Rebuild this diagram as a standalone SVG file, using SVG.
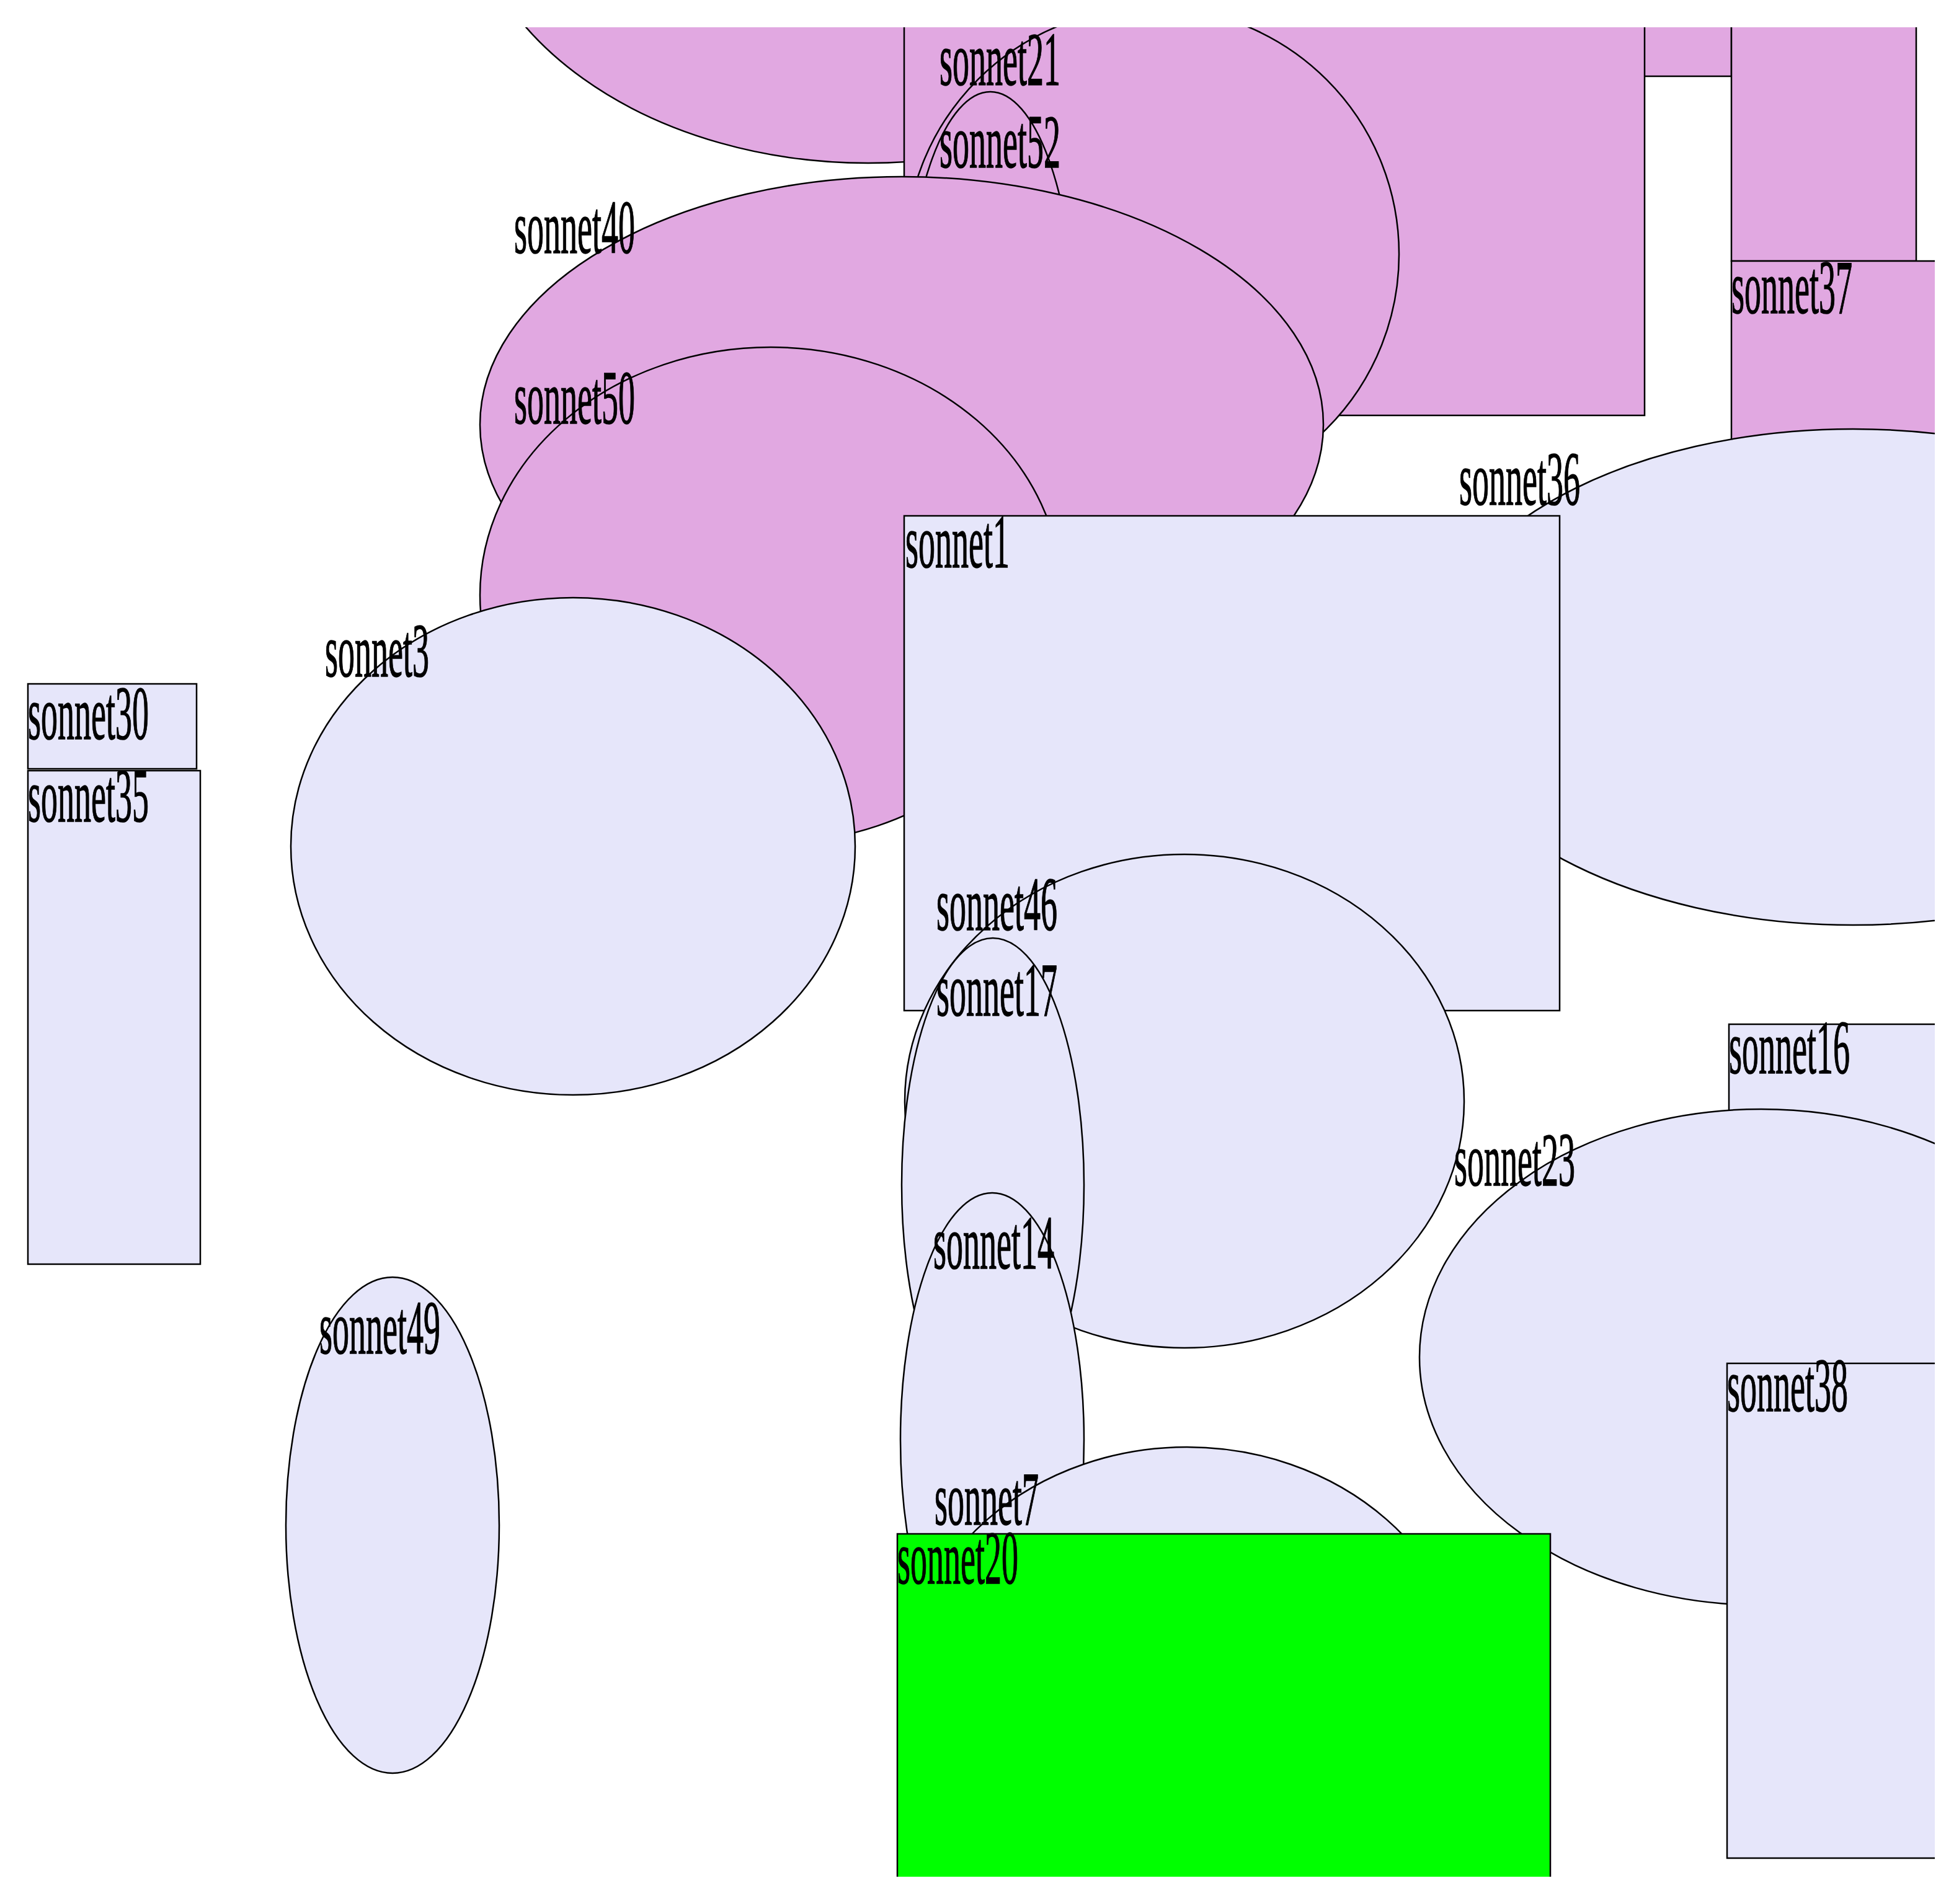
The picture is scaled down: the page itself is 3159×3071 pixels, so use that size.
<svg xmlns="http://www.w3.org/2000/svg" width="3159" height="3071" viewBox="0 0 3159 3071">
<style>
.pk{fill:#e1a8e1;stroke:#000;stroke-width:2.5}
.lv{fill:#e6e6fa;stroke:#000;stroke-width:2.5}
.gr{fill:#00ff00;stroke:#000;stroke-width:2.5}
text{font-family:"Liberation Serif","Times New Roman",serif;font-size:122px;fill:#000;stroke:#000;stroke-width:1.5}
</style>
<defs><clipPath id="clip"><rect x="0" y="44" width="3120" height="2983"/></clipPath></defs>
<rect width="3159" height="3071" fill="#fff"/>
<g clip-path="url(#clip)">
<g id="node_top_ellipse"><ellipse class="pk" cx="1400" cy="-202" rx="650" ry="465"/></g>
<g id="node_top_rect_b"><rect class="pk" x="2600" y="-100" width="192" height="223"/></g>
<g id="node_top_rect_a"><rect class="pk" x="1458" y="-100" width="1194" height="770"/></g>
<g id="node_top_rect_c"><rect class="pk" x="2792" y="-100" width="298" height="521"/></g>
<g id="sonnet37"><rect class="pk" x="2792" y="421" width="500" height="797"/><text x="2792" y="505" textLength="195" lengthAdjust="spacingAndGlyphs">sonnet37</text></g>
<g id="sonnet21"><ellipse class="pk" cx="1858" cy="410" rx="398" ry="398"/><text x="1515" y="137" textLength="195" lengthAdjust="spacingAndGlyphs">sonnet21</text></g>
<g id="sonnet52"><ellipse class="pk" cx="1597" cy="546" rx="137" ry="398"/><text x="1515" y="270" textLength="195" lengthAdjust="spacingAndGlyphs">sonnet52</text></g>
<g id="sonnet40"><ellipse class="pk" cx="1454" cy="685" rx="680" ry="400"/><text x="829" y="408" textLength="195" lengthAdjust="spacingAndGlyphs">sonnet40</text></g>
<g id="sonnet50"><ellipse class="pk" cx="1243" cy="960" rx="469" ry="400"/><text x="829" y="683" textLength="195" lengthAdjust="spacingAndGlyphs">sonnet50</text></g>
<g id="sonnet3"><ellipse class="lv" cx="924" cy="1365" rx="455" ry="401"/><text x="524" y="1091" textLength="168" lengthAdjust="spacingAndGlyphs">sonnet3</text></g>
<g id="sonnet36"><ellipse class="lv" cx="2988" cy="1092" rx="690" ry="400"/><text x="2353" y="814" textLength="195" lengthAdjust="spacingAndGlyphs">sonnet36</text></g>
<g id="sonnet1"><rect class="lv" x="1458" y="832" width="1057" height="798"/><text x="1460" y="915" textLength="168" lengthAdjust="spacingAndGlyphs">sonnet1</text></g>
<g id="sonnet46"><ellipse class="lv" cx="1910" cy="1776" rx="451" ry="398"/><text x="1510" y="1500" textLength="195" lengthAdjust="spacingAndGlyphs">sonnet46</text></g>
<g id="sonnet17"><ellipse class="lv" cx="1601" cy="1911" rx="147" ry="398"/><text x="1510" y="1638" textLength="195" lengthAdjust="spacingAndGlyphs">sonnet17</text></g>
<g id="sonnet14"><ellipse class="lv" cx="1600" cy="2322" rx="148" ry="398"/><text x="1505" y="2046" textLength="195" lengthAdjust="spacingAndGlyphs">sonnet14</text></g>
<g id="sonnet7"><ellipse class="lv" cx="1914" cy="2732" rx="455" ry="398"/><text x="1507" y="2459" textLength="168" lengthAdjust="spacingAndGlyphs">sonnet7</text></g>
<g id="sonnet16"><rect class="lv" x="2788" y="1652" width="400" height="400"/><text x="2788" y="1731" textLength="195" lengthAdjust="spacingAndGlyphs">sonnet16</text></g>
<g id="sonnet23"><ellipse class="lv" cx="2840" cy="2189" rx="551" ry="400"/><text x="2345" y="1912" textLength="195" lengthAdjust="spacingAndGlyphs">sonnet23</text></g>
<g id="sonnet38"><rect class="lv" x="2785" y="2199" width="400" height="798"/><text x="2785" y="2276" textLength="195" lengthAdjust="spacingAndGlyphs">sonnet38</text></g>
<g id="sonnet20"><rect class="gr" x="1447" y="2474" width="1053" height="800"/><text x="1447" y="2554" textLength="195" lengthAdjust="spacingAndGlyphs">sonnet20</text></g>
<g id="sonnet30"><rect class="lv" x="45" y="1103" width="272" height="137"/><text x="45" y="1192" textLength="195" lengthAdjust="spacingAndGlyphs">sonnet30</text></g>
<g id="sonnet35"><rect class="lv" x="45" y="1243" width="278" height="796"/><text x="45" y="1325" textLength="195" lengthAdjust="spacingAndGlyphs">sonnet35</text></g>
<g id="sonnet49"><ellipse class="lv" cx="633" cy="2460" rx="172" ry="400"/><text x="515" y="2183" textLength="195" lengthAdjust="spacingAndGlyphs">sonnet49</text></g>
<g id="connectors"></g>
</g>
</svg>
